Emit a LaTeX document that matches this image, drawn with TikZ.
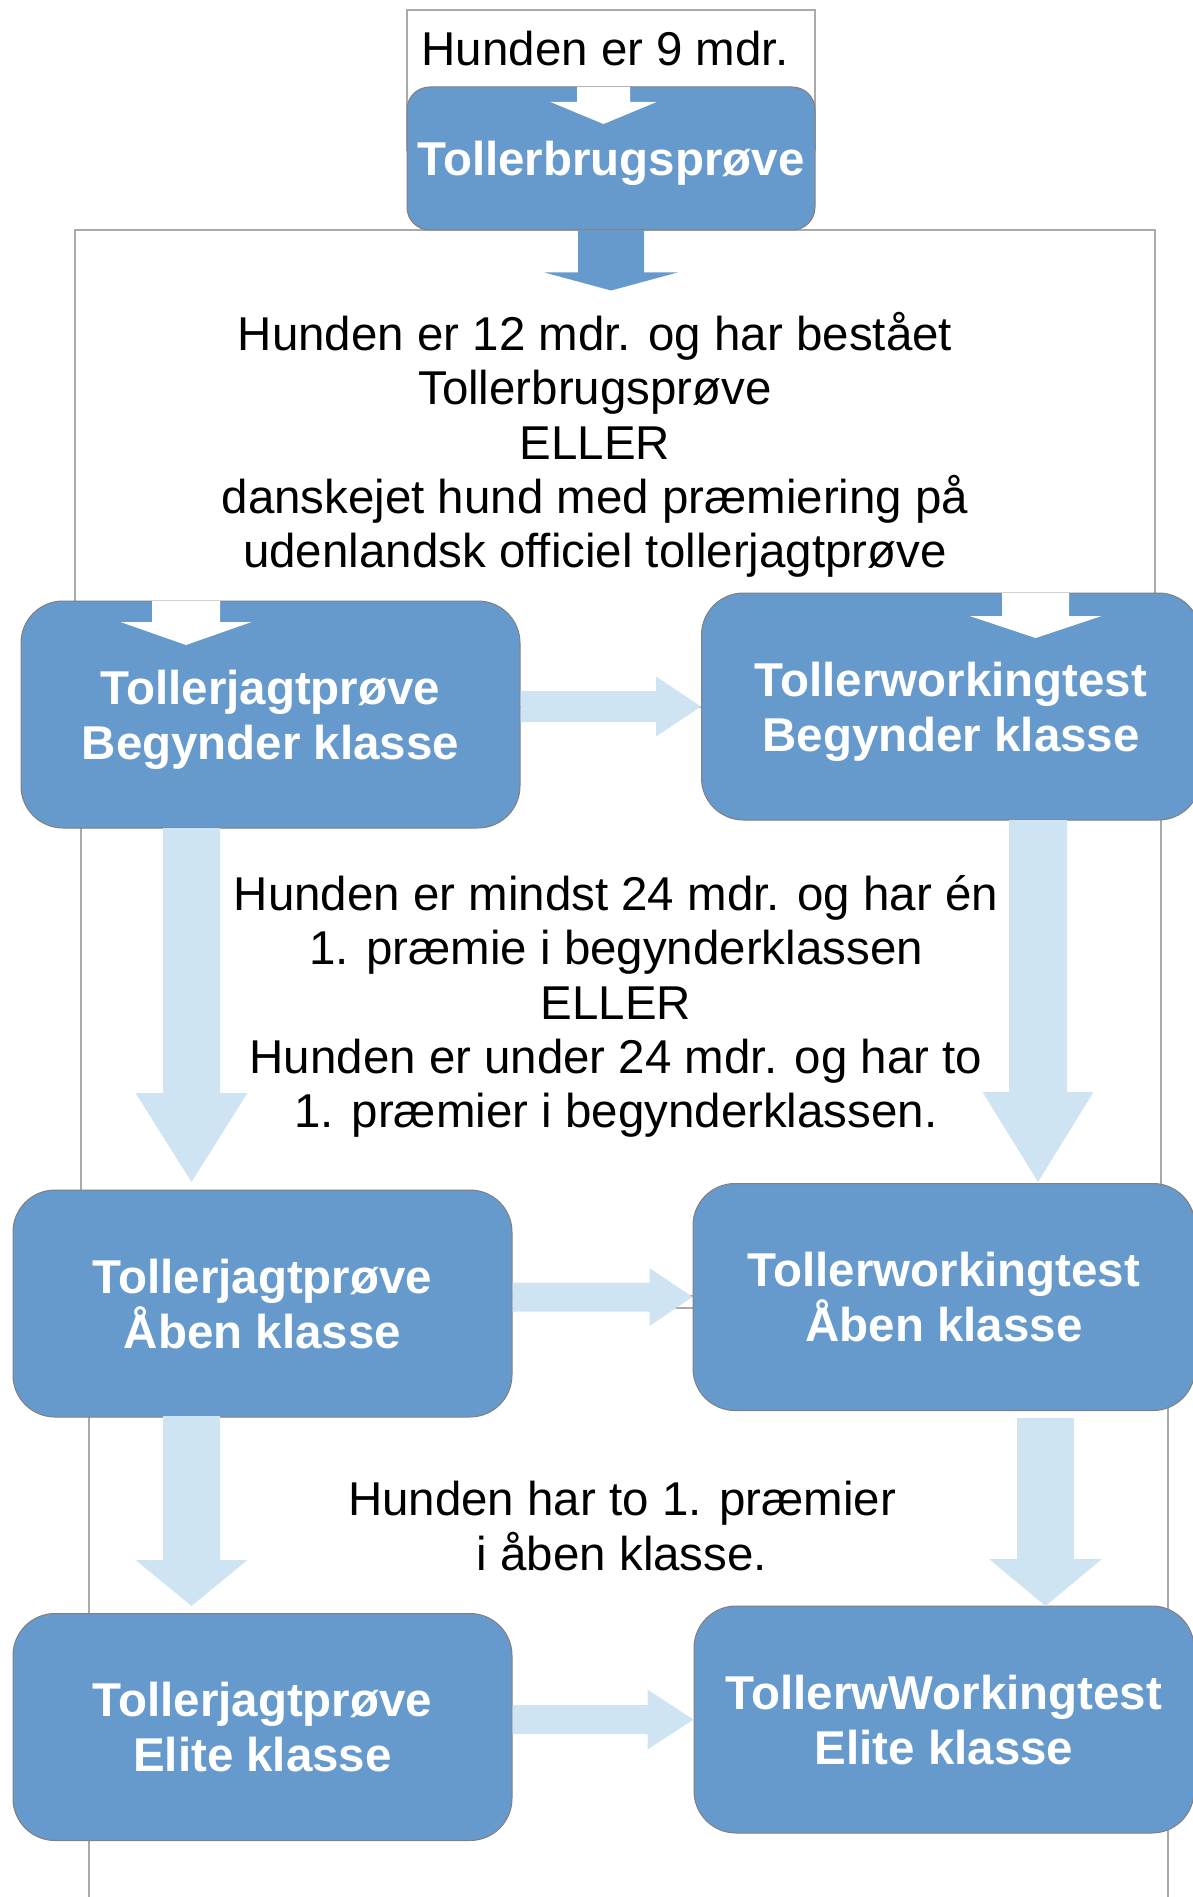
\documentclass[tikz,border=0pt]{standalone}
\usepackage{fontspec}
\setmainfont{Liberation Sans}
\usetikzlibrary{calc}
\definecolor{boxblue}{RGB}{102,153,204}
\definecolor{lightarr}{RGB}{207,228,243}
\definecolor{frameg}{RGB}{170,170,170}
\definecolor{edgeg}{RGB}{128,128,128}
% block arrow pointing down: #1 start (shaft top centre), #2 tip, #3 half shaft, #4 half head, #5 head length, #6 style
\newcommand\blkdown[6]{%
  \fill[#6] ($(#1)+(-#3,0)$) -- ($(#1)+(#3,0)$) -- ($(#2)+(#3,-#5)$) -- ($(#2)+(#4,-#5)$) -- (#2)
    -- ($(#2)+(-#4,-#5)$) -- ($(#2)+(-#3,-#5)$) -- cycle;}
% block arrow pointing right
\newcommand\blkright[6]{%
  \fill[#6] ($(#1)+(0,-#3)$) -- ($(#2)+(-#5,-#3)$) -- ($(#2)+(-#5,-#4)$) -- (#2)
    -- ($(#2)+(-#5,#4)$) -- ($(#2)+(-#5,#3)$) -- ($(#1)+(0,#3)$) -- cycle;}
\begin{document}
\begin{tikzpicture}[x=0.75pt,y=-0.75pt,
  bluebox/.style={draw=edgeg, line width=0.75pt, fill=boxblue, rounded corners=31.5pt,
    minimum width=374.25pt, minimum height=170.25pt, text=white, text depth=0pt,
    font=\bfseries\fontsize{35.6}{41}\selectfont, align=center, inner sep=0pt},
  plaintext/.style={font=\fontsize{35.6}{40.7}\selectfont, align=center, inner sep=0pt, text=black},
  gframe/.style={draw=frameg, line width=1.1pt},
  lightarrow/.style={fill=lightarr},
  whitearrow/.style={fill=white},
  darkarrow/.style={fill=boxblue}]
\useasboundingbox (0,0) rectangle (1192,1897);

% text frames
\draw[gframe] (75,230) rectangle (1155,707);
\draw[gframe] (81,707) rectangle (1161,1308);
\draw[gframe] (89,1296) rectangle (1168,1960);
\draw[gframe] (407,10) rectangle (815,150);

% boxes
\node[bluebox, minimum width=306pt, minimum height=107.25pt, rounded corners=17pt] (b0) at (611,158.5) {Tollerbrugsprøve};
\node[bluebox] (b1) at (270.5,714.5) {Tollerjagtprøve\\Begynder klasse};
\node[bluebox] (b2) at (951,706.5) {Tollerworkingtest\\Begynder klasse};
\node[bluebox] (b3) at (262.5,1303.5) {Tollerjagtprøve\\Åben klasse};
\node[bluebox, minimum width=376.5pt] (b4) at (944,1297) {Tollerworkingtest\\Åben klasse};
\node[bluebox] (b5) at (262.5,1727) {Tollerjagtprøve\\Elite klasse};
\node[bluebox, minimum width=375pt] (b6) at (944,1719.5) {TollerwWorkingtest\\Elite klasse};

% arrow end points
\coordinate (a0s) at (b0.south);
\coordinate (a0t) at ($(b0.south)+(0,60)$);
\coordinate (w0s) at (603.5,87);   \coordinate (w0t) at (603.5,124);
\coordinate (w1s) at (186,601);    \coordinate (w1t) at (186,645);
\coordinate (w2s) at (1035.5,593); \coordinate (w2t) at (1035.5,638);
\coordinate (l1s) at (191.5,828);  \coordinate (l1t) at (191.5,1182);
\coordinate (l2s) at (1038,820);   \coordinate (l2t) at (1038,1182);
\coordinate (l3s) at (191.5,1416); \coordinate (l3t) at (191.5,1606);
\coordinate (l4s) at (1045.5,1418);\coordinate (l4t) at (1045.5,1606);
\coordinate (h1s) at (b1.east |- b2.west);
\coordinate (h2s) at (b3.east |- b4.west);
\coordinate (h3s) at (b5.east |- b6.west);

% arrows
\blkdown{a0s}{a0t}{33}{66.5}{18}{darkarrow}
\blkdown{w0s}{w0t}{26.5}{53}{22}{whitearrow}
\blkdown{w1s}{w1t}{34}{65.5}{23}{whitearrow}
\blkdown{w2s}{w2t}{33.5}{66}{22}{whitearrow}
\blkdown{l1s}{l1t}{28.5}{56}{89}{lightarrow}
\blkdown{l2s}{l2t}{29}{55.5}{90}{lightarrow}
\blkdown{l3s}{l3t}{28.5}{56}{46}{lightarrow}
\blkdown{l4s}{l4t}{28.5}{56.5}{47}{lightarrow}
\blkright{h1s}{b2.west}{15.5}{30}{45}{lightarrow}
\blkright{h2s}{b4.west}{14.5}{29}{43}{lightarrow}
\blkright{h3s}{b6.west}{14.5}{30}{46}{lightarrow}

% texts
\node[plaintext] (t0) at (605,49) {Hunden er 9 mdr.};
\node[plaintext] (t1) at (595,445) {Hunden er 12 mdr. og har bestået\\Tollerbrugsprøve\\ELLER\\danskejet hund med præmiering på\\udenlandsk officiel tollerjagtprøve};
\node[plaintext] (t2) at (616,1006.5) {Hunden er mindst 24 mdr. og har én\\1. præmie i begynderklassen\\ELLER\\Hunden er under 24 mdr. og har to\\1. præmier i begynderklassen.};
\node[plaintext] (t3) at (622,1526) {Hunden har to 1. præmier\\i åben klasse.};
\end{tikzpicture}
\end{document}
